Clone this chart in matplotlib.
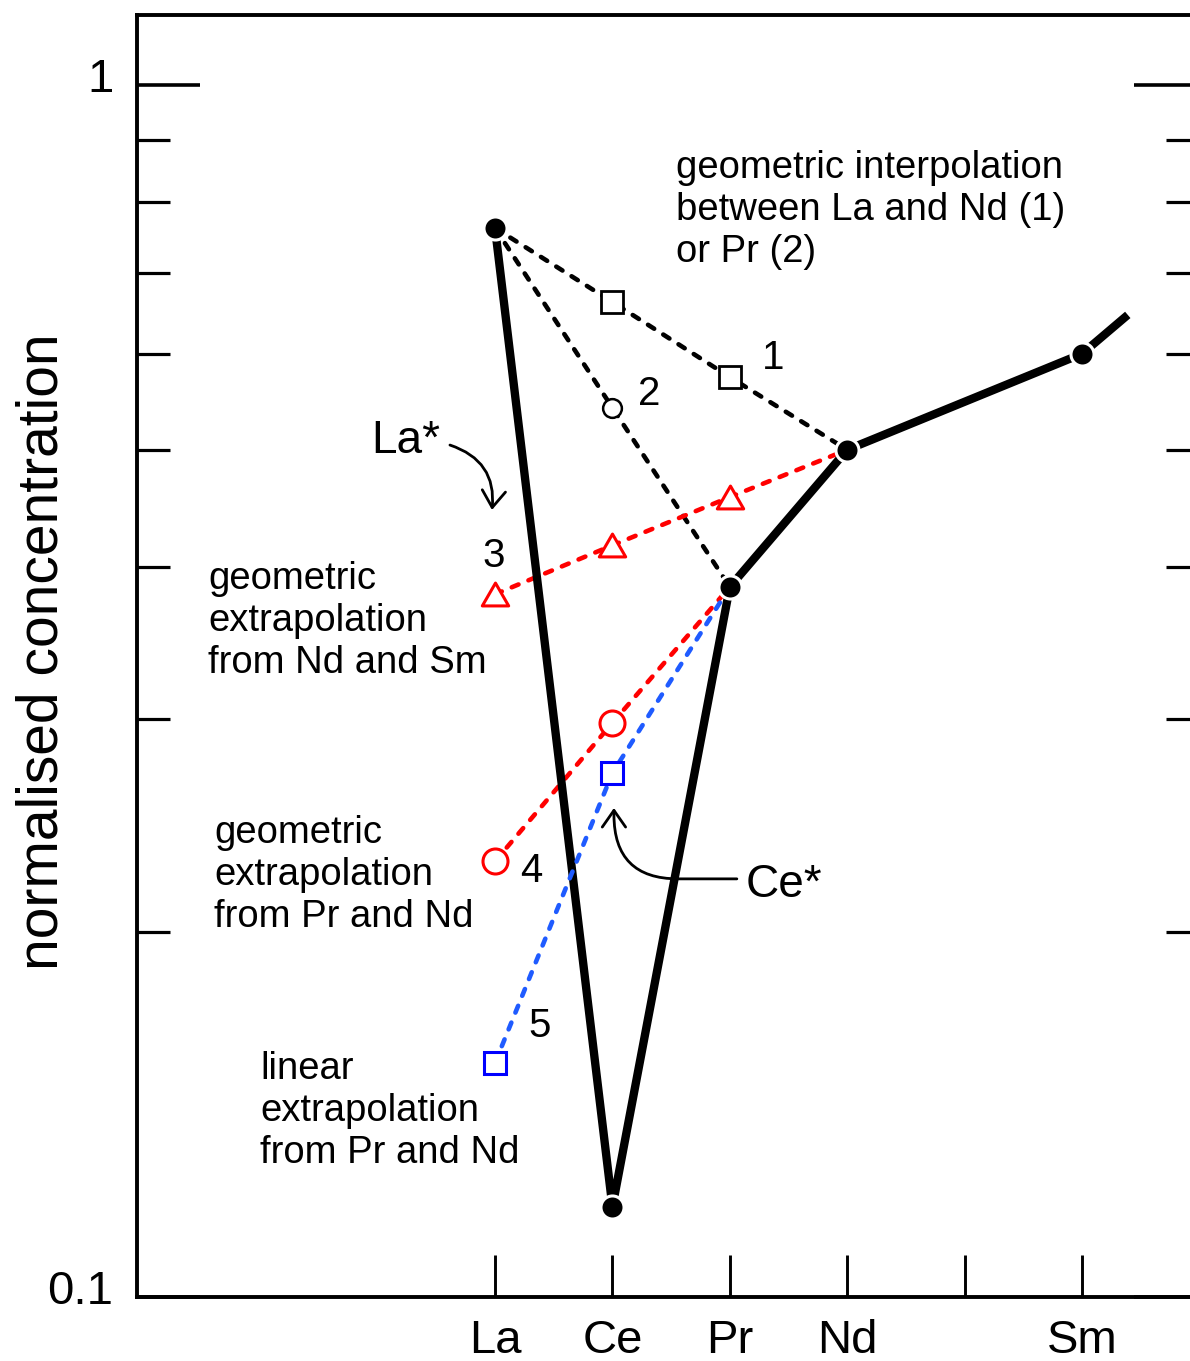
import numpy as np
import matplotlib
matplotlib.use("Agg")
import matplotlib.pyplot as plt
from matplotlib.path import Path
from matplotlib.transforms import ScaledTranslation
from matplotlib.ticker import FixedLocator, FixedFormatter, NullFormatter, NullLocator

plt.rcParams['font.family'] = ['Liberation Sans', 'DejaVu Sans']

# element positions on the x axis (atomic number) and their labels
ree_x = [57, 58, 59, 60, 61, 62]
ree_labels = ["La", "Ce", "Pr", "Nd", "", "Sm"]

# measured pattern (normalised), last point is where the drawn line stops
pattern_x = [57, 58, 59, 60, 62, 62.39]
pattern_y = [0.762, 0.1187, 0.3853, 0.500, 0.600, 0.646]

# (1) geometric interpolation La - Nd
interp1_x = [57, 58, 59, 60]
interp1_y = [0.762, 0.662, 0.574, 0.500]
# (2) geometric interpolation La - Pr
interp2_x = [57, 58, 59]
interp2_y = [0.762, 0.5415, 0.3853]
# (3) geometric extrapolation from Nd and Sm
extrap3_x = [57, 58, 59, 60]
extrap3_y = [0.380, 0.417, 0.457, 0.500]
# (4) geometric extrapolation from Pr and Nd
extrap4_x = [57, 58, 59]
extrap4_y = [0.2288, 0.2976, 0.3853]
# (5) linear extrapolation from Pr and Nd
extrap5_x = [57, 58, 59]
extrap5_y = [0.156, 0.2706, 0.3853]

y_major = [0.1, 1]
y_major_labels = ["0.1", "1"]
y_minor = [0.2, 0.3, 0.4, 0.5, 0.6, 0.7, 0.8, 0.9]

RED = "#ff0000"
BLUE_LINE = "#1f5bff"
BLUE = "#0000ff"
DLW = 3.3
dash = (0, (1.6, 2.35))

tri = Path([(-1, -0.866), (1, -0.866), (0, 0.866), (-1, -0.866)], closed=True)

fig = plt.figure(figsize=(11.9, 13.61), dpi=100)
ax = fig.add_axes([0.1151, 0.0470, 0.8849, 0.9420])
ax.set_yscale("log")
ax.set_xlim(53.95, 62.92)
ax.set_ylim(0.1, 1.142)

# dashed constructions
ax.plot(interp1_x, interp1_y, color="black", lw=DLW, ls=dash, dash_capstyle="round",
        marker="s", ms=15.5, mew=2, mfc="white", mec="black", markevery=[1, 2], zorder=2)
ax.plot(interp2_x, interp2_y, color="black", lw=DLW, ls=dash, dash_capstyle="round",
        marker="o", ms=13.5, mew=1.8, mfc="white", mec="black", markevery=[1], zorder=2)
ax.plot(extrap3_x, extrap3_y, color=RED, lw=DLW, ls=dash, dash_capstyle="round",
        marker=tri, ms=19, mew=2.2, mfc="white", mec=RED, markevery=[0, 1, 2], zorder=3)
ax.plot(extrap4_x, extrap4_y, color=RED, lw=DLW, ls=dash, dash_capstyle="round",
        marker="o", ms=18, mew=2.2, mfc="white", mec=RED, markevery=[0, 1], zorder=3)

# measured pattern
ax.plot(pattern_x, pattern_y, color="black", lw=6, solid_capstyle="butt", zorder=4)

ax.plot(extrap5_x, extrap5_y, color=BLUE_LINE, lw=DLW, ls=dash, dash_capstyle="round",
        marker="s", ms=15.5, mew=2.2, mfc="white", mec=BLUE, markevery=[0, 1], zorder=5)

ax.plot(pattern_x[:5], pattern_y[:5], ls="none", marker="o", ms=16.6, mew=2.2,
        mfc="black", mec="white", zorder=6)

# axes styling
for side in ["left", "bottom", "top"]:
    ax.spines[side].set_linewidth(2.8)
ax.spines["right"].set_visible(False)

ax.xaxis.set_major_locator(FixedLocator(ree_x))
ax.xaxis.set_major_formatter(FixedFormatter(ree_labels))
ax.xaxis.set_minor_locator(NullLocator())
ax.tick_params(axis="x", which="major", direction="in", length=30, width=2.1,
               top=False, labelsize=34, pad=16)

ax.yaxis.set_major_locator(FixedLocator(y_major))
ax.yaxis.set_major_formatter(FixedFormatter(y_major_labels))
ax.yaxis.set_minor_locator(FixedLocator(y_minor))
ax.yaxis.set_minor_formatter(NullFormatter())
ax.tick_params(axis="y", which="major", direction="in", length=45, width=2.6,
               labelsize=34, pad=17, right=False)
ax.tick_params(axis="y", which="minor", direction="in", length=24, width=2.3, right=False)

# y tick labels sit a little above their ticks
lift = ScaledTranslation(0, 0.10, fig.dpi_scale_trans)
for lab in ax.get_yticklabels():
    lab.set_transform(lab.get_transform() + lift)

ax.set_ylabel("normalised concentration", fontsize=41)
ax.yaxis.set_label_coords(-0.075, 0.503)
ax.yaxis.label.set_va("baseline")

# right hand ticks are shorter
ax2 = ax.twinx()
ax2.set_yscale("log")
ax2.set_ylim(ax.get_ylim())
for s in ax2.spines.values():
    s.set_visible(False)
ax2.yaxis.set_major_locator(FixedLocator(y_major))
ax2.yaxis.set_minor_locator(FixedLocator(y_minor))
ax2.yaxis.set_minor_formatter(NullFormatter())
ax2.tick_params(axis="y", which="major", direction="in", length=40, width=2.6, labelright=False)
ax2.tick_params(axis="y", which="minor", direction="in", length=17, width=2.3)

# annotations (va=baseline refers to the last line of each block)
txt = dict(fontsize=27.5, ha="left", va="baseline", linespacing=1.22)
ax.text(58.54, 0.7144, "geometric interpolation\nbetween La and Nd (1)\nor Pr (2)", **txt)
ax.text(54.555, 0.3272, "geometric\nextrapolation\nfrom Nd and Sm", **txt)
ax.text(54.61, 0.2020, "geometric\nextrapolation\nfrom Pr and Nd", **txt)
ax.text(55.00, 0.1290, "linear\nextrapolation\nfrom Pr and Nd", **txt)

num = dict(fontsize=29, ha="left", va="baseline")
ax.text(59.274, 0.583, "1", **num)
ax.text(58.217, 0.5445, "2", **num)
ax.text(56.897, 0.4002, "3", **num)
ax.text(57.212, 0.220, "4", **num)
ax.text(57.28, 0.1639, "5", **num)

ax.text(55.943, 0.497, "La*", fontsize=33, ha="left", va="baseline")
ax.text(59.137, 0.2138, "Ce*", fontsize=33, ha="left", va="baseline")

arrow = dict(arrowstyle="->,head_length=0.6,head_width=0.42", mutation_scale=20,
             lw=2.0, color="black", shrinkA=0, shrinkB=0)
ax.annotate("", xy=(56.974, 0.446), xytext=(56.616, 0.5045),
            arrowprops=dict(connectionstyle="arc3,rad=-0.4", **arrow))
ax.annotate("", xy=(58.013, 0.2532), xytext=(59.06, 0.2213),
            arrowprops=dict(connectionstyle="angle,angleA=0,angleB=90,rad=64", **arrow))

fig.savefig("out.png", dpi=100)
